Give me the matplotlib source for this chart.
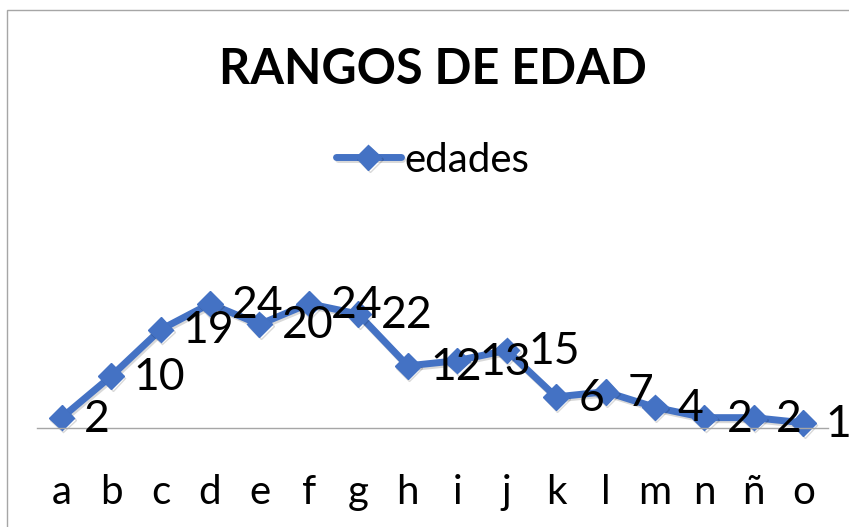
import matplotlib.pyplot as plt
import matplotlib.patheffects as pe
from matplotlib.patches import Rectangle

plt.rcParams['font.family'] = ['Lato', 'DejaVu Sans']

categorias = ["a", "b", "c", "d", "e", "f", "g", "h", "i", "j", "k", "l", "m", "n", "ñ", "o"]
edades = [2, 10, 19, 24, 20, 24, 22, 12, 13, 15, 6, 7, 4, 2, 2, 1]

azul = "#4472C4"

fig = plt.figure(figsize=(8.49, 5.27), dpi=100)
ax = fig.add_axes([37 / 849, 1 - 428 / 527, 791 / 849, 30 * 5.18 / 527])

x = list(range(len(categorias)))
sombra = [pe.SimpleLineShadow(offset=(1, -1.5), alpha=0.15, rho=0.3), pe.Normal()]
linea, = ax.plot(x, edades, color=azul, lw=5, marker="D", markersize=13,
                 solid_capstyle="round", clip_on=False, label="edades",
                 path_effects=sombra)

for xi, v in zip(x, edades):
    ax.annotate(str(v), (xi, v), xytext=(16, -1), textcoords="offset points",
                ha="left", va="center", fontsize=32, color="black",
                annotation_clip=False)

ax.set_xlim(-0.5, len(categorias) - 0.5)
ax.set_ylim(0, 30)
ax.set_xticks(x)
ax.set_xticklabels(categorias, fontsize=29)
ax.tick_params(axis="x", length=0, pad=33)
ax.set_yticks([])
for lado in ["top", "right", "left"]:
    ax.spines[lado].set_visible(False)
ax.spines["bottom"].set_color("#A6A6A6")
ax.spines["bottom"].set_linewidth(1)
ax.patch.set_alpha(0)

fig.text(433 / 849, 1 - 70 / 527, "RANGOS DE EDAD", ha="center", va="center",
         fontsize=35, fontweight="bold")

fig.legend(handles=[linea], loc="center", bbox_to_anchor=(433 / 849, 1 - 160 / 527),
           frameon=False, fontsize=29, handlelength=1.6, handletextpad=0.1)

fig.add_artist(Rectangle((7 / 849, -0.1), 1.2, 1.1 - 10 / 527, transform=fig.transFigure,
                         fill=False, edgecolor="#A6A6A6", lw=1))

fig.savefig("out.png", dpi=100)
